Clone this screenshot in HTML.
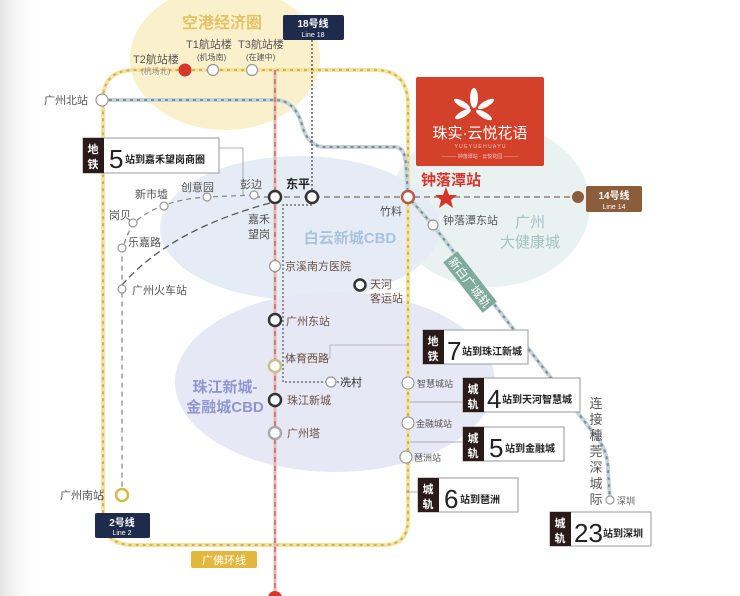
<!DOCTYPE html>
<html><head><meta charset="utf-8"><style>
html,body{margin:0;padding:0;background:#fff;}
svg{display:block;font-family:"Liberation Sans","Noto Sans CJK SC",sans-serif;}
</style></head><body>
<svg width="740" height="596" viewBox="0 0 740 596" xmlns="http://www.w3.org/2000/svg">
<defs>
<linearGradient id="lg" x1="0" x2="1"><stop offset="0" stop-color="#e4e4e4"/><stop offset="1" stop-color="#fff" stop-opacity="0"/></linearGradient>
</defs>
<rect width="740" height="596" fill="#fff"/>
<rect width="40" height="596" fill="url(#lg)"/>
<ellipse cx="225" cy="58" rx="95" ry="72" fill="#faf0cc"/>
<ellipse cx="490" cy="205" rx="100" ry="82" fill="#e9f1f1"/>
<ellipse cx="300" cy="228" rx="140" ry="72" fill="#e6ecf5"/>
<ellipse cx="335" cy="382" rx="160" ry="90" fill="#e7e8f6"/>
<text x="222" y="28" font-size="16" font-weight="bold" fill="#e2c466" text-anchor="middle">空港经济圈</text>
<text x="350" y="243" font-size="15" font-weight="bold" fill="#a9c3dc" text-anchor="middle">白云新城CBD</text>
<text x="225" y="392" font-size="15" font-weight="bold" fill="#9096d2" text-anchor="middle">珠江新城-</text>
<text x="225" y="412" font-size="15" font-weight="bold" fill="#9096d2" text-anchor="middle">金融城CBD</text>
<text x="530" y="227" font-size="15" fill="#a6c3c3" text-anchor="middle">广州</text>
<text x="530" y="247" font-size="15" fill="#a6c3c3" text-anchor="middle">大健康城</text>
<path d="M185,70 L375,70 Q408,70 408,105 L408,520 Q408,545 383,545 L133,545 Q103,545 103,515 L103,100 Q103,70 135,70 Z" fill="none" stroke="#f4e2a2" stroke-width="4"/>
<path d="M185,70 L375,70 Q408,70 408,105 L408,520 Q408,545 383,545 L133,545 Q103,545 103,515 L103,100 Q103,70 135,70 Z" fill="none" stroke="#d4b24a" stroke-width="2" stroke-dasharray="3,4"/>
<path d="M102,100 L275,100 Q295,100 302,125 Q308,147 325,147 L395,147 Q405,147 406,165 L408,197 L433,225 L595,435 Q608,450 608,470 L610,500" fill="none" stroke="#c4d4d8" stroke-width="4"/>
<path d="M102,100 L275,100 Q295,100 302,125 Q308,147 325,147 L395,147 Q405,147 406,165 L408,197 L433,225 L595,435 Q608,450 608,470 L610,500" fill="none" stroke="#7f8c96" stroke-width="2" stroke-dasharray="3,4"/>
<line x1="254" y1="197" x2="578" y2="197" stroke="#8f7f77" stroke-width="1.5" stroke-dasharray="6,4"/>
<line x1="275" y1="70" x2="275" y2="596" stroke="#e8b8b0" stroke-width="3"/>
<line x1="275" y1="70" x2="275" y2="596" stroke="#b85a55" stroke-width="1.2" stroke-dasharray="5,4"/>
<circle cx="275" cy="598" r="7" fill="#d8352a"/>
<line x1="312" y1="40" x2="312" y2="197" stroke="#444" stroke-width="1.3" stroke-dasharray="2,2"/>
<path d="M312,205 L283,205 L283,382 L358,382" fill="none" stroke="#555" stroke-width="1.2" stroke-dasharray="2,2"/>
<path d="M283,358 L330,358 L330,345 L408,345" fill="none" stroke="#aaa" stroke-width="0.8"/>
<path d="M254,195 L207,197 Q160,200 135,222 Q122,240 122,260 L122,495" fill="none" stroke="#8a8a8a" stroke-width="1.3" stroke-dasharray="5,4"/>
<path d="M270,203 Q170,230 122,285" fill="none" stroke="#555" stroke-width="1.3" stroke-dasharray="7,4"/>
<path d="M219,148 L243,148 L243,195" fill="none" stroke="#999" stroke-width="0.8"/>
<line x1="410" y1="402" x2="463" y2="402" stroke="#999" stroke-width="0.8"/>
<line x1="410" y1="442" x2="463" y2="442" stroke="#999" stroke-width="0.8"/>
<line x1="406" y1="492" x2="418" y2="492" stroke="#999" stroke-width="0.8"/>
<g fill="#fff" stroke="#999" stroke-width="1.2">
<circle cx="102" cy="100" r="6"/>
<circle cx="213" cy="70" r="5.5"/>
<circle cx="252" cy="70" r="5.5"/>
<circle cx="207" cy="197" r="4"/>
<circle cx="254" cy="195" r="4"/>
<circle cx="164" cy="206" r="4"/>
<circle cx="133" cy="223" r="4"/>
<circle cx="122" cy="248" r="4"/>
<circle cx="122" cy="289" r="4"/>
<circle cx="275" cy="266" r="5.5"/>
<circle cx="433" cy="225" r="5"/>
<circle cx="331" cy="382" r="5"/>
<circle cx="408" cy="383" r="6"/>
<circle cx="408" cy="423" r="6"/>
<circle cx="406" cy="457" r="6"/>
<circle cx="610" cy="500" r="4"/>
</g>
<circle cx="185" cy="70" r="6.5" fill="#d8352a"/>
<g fill="#fff" stroke-width="2.5">
<circle cx="275" cy="197" r="6" stroke="#333"/>
<circle cx="312" cy="197" r="6" stroke="#333"/>
<circle cx="408" cy="197" r="6" stroke="#b55a4a"/>
<circle cx="360" cy="285" r="5.5" stroke="#333"/>
<circle cx="275" cy="320" r="6" stroke="#333"/>
<circle cx="275" cy="366" r="6" stroke="#c9bf8f"/>
<circle cx="275" cy="400" r="6" stroke="#333"/>
<circle cx="275" cy="433" r="6" stroke="#aaa"/>
<circle cx="122" cy="495" r="6" stroke="#d8b84a"/>
</g>
<circle cx="578" cy="197" r="6" fill="#8c5d3b"/>
<polygon points="446,187 449,195 457,195 451,200 453,208 446,203 439,208 441,200 435,195 443,195" fill="#d8352a"/>
<g font-size="11" fill="#555">
<text x="133" y="63">T2航站楼</text>
<text x="141" y="74" font-size="8" fill="#999">(机场北)</text>
<text x="186" y="48">T1航站楼</text>
<text x="197" y="60" font-size="8">(机场南)</text>
<text x="238" y="48">T3航站楼</text>
<text x="246" y="60" font-size="8">(在建中)</text>
<text x="44" y="104">广州北站</text>
<text x="135" y="198">新市墟</text>
<text x="181" y="191">创意园</text>
<text x="240" y="188">彭边</text>
<text x="109" y="219">岗贝</text>
<text x="128" y="246">乐嘉路</text>
<text x="132" y="294">广州火车站</text>
<text x="248" y="223">嘉禾</text>
<text x="248" y="238">望岗</text>
<text x="285" y="270" fill="#6b5040">京溪南方医院</text>
<text x="370" y="288" fill="#6b5040">天河</text>
<text x="370" y="302" fill="#6b5040">客运站</text>
<text x="286" y="325" fill="#6b5040">广州东站</text>
<text x="285" y="362" fill="#6b5040">体育西路</text>
<text x="340" y="386" fill="#333">冼村</text>
<text x="287" y="404" fill="#6b5040">珠江新城</text>
<text x="287" y="437" fill="#6b5040">广州塔</text>
<text x="60" y="499">广州南站</text>
<text x="380" y="215">竹料</text>
<text x="443" y="224">钟落潭东站</text>
<text x="417" y="387" font-size="9">智慧城站</text>
<text x="416" y="427" font-size="9">金融城站</text>
<text x="414" y="461" font-size="9">琶洲站</text>
<text x="617" y="504" font-size="9">深圳</text>
</g>
<text x="286" y="188" font-size="12" font-weight="bold" fill="#222">东平</text>
<text x="421" y="185" font-size="15" font-weight="bold" fill="#d8352a">钟落潭站</text>
<g font-size="13" fill="#555" text-anchor="middle">
<text x="596" y="408">连</text><text x="596" y="424">接</text><text x="596" y="440">穗</text><text x="596" y="456">莞</text><text x="596" y="472">深</text><text x="596" y="488">城</text><text x="596" y="504">际</text>
</g>
<g transform="translate(470,282) rotate(52)">
<rect x="-32" y="-9" width="64" height="18" fill="#7fab9d"/>
<text x="0" y="5" font-size="12" fill="#fff" text-anchor="middle">新白广城轨</text>
</g>
<rect x="283" y="15" width="61" height="25" rx="2" fill="#1f2b4d"/>
<text x="313" y="27" font-size="10" font-weight="bold" fill="#fff" text-anchor="middle">18号线</text>
<text x="313" y="37" font-size="7" fill="#fff" text-anchor="middle">Line 18</text>
<rect x="586" y="186" width="56" height="26" rx="2" fill="#8c5d3b"/>
<text x="614" y="199" font-size="10" font-weight="bold" fill="#fff" text-anchor="middle">14号线</text>
<text x="614" y="209" font-size="7" fill="#fff" text-anchor="middle">Line 14</text>
<rect x="95" y="513" width="55" height="25" rx="2" fill="#1f2b4d"/>
<text x="122" y="526" font-size="10" font-weight="bold" fill="#fff" text-anchor="middle">2号线</text>
<text x="122" y="535" font-size="7" fill="#fff" text-anchor="middle">Line 2</text>
<rect x="191" y="551" width="66" height="17" rx="2" fill="#e3b63c"/>
<text x="224" y="564" font-size="11" fill="#fff" text-anchor="middle">广佛环线</text>
<rect x="416" y="77" width="128" height="89" rx="2" fill="#d4412b"/>
<g fill="#fff">
<ellipse cx="474" cy="98" rx="4" ry="10"/>
<ellipse cx="462" cy="104" rx="9" ry="3" transform="rotate(30 462 104)"/>
<ellipse cx="486" cy="104" rx="9" ry="3" transform="rotate(-30 486 104)"/>
<ellipse cx="463" cy="114" rx="9" ry="3" transform="rotate(-30 463 114)"/>
<ellipse cx="484" cy="115" rx="9" ry="3" transform="rotate(30 484 115)"/>
</g>
<text x="480" y="138" font-size="15" fill="#fff" text-anchor="middle">珠实·云悦花语</text>
<text x="480" y="148" font-size="5" fill="#f3c8c0" text-anchor="middle">Y U E Y U E   H U A Y U</text>
<text x="480" y="158" font-size="5" fill="#f3c8c0" text-anchor="middle">——— 钟落潭站 · 云悦花园 ———</text>
<g font-weight="bold">
<rect x="83" y="138" width="136" height="35" fill="#fff" stroke="#999"/>
<rect x="83" y="138" width="21" height="35" fill="#2b1a1a"/>
<text x="93" y="153" font-size="11" fill="#fff" text-anchor="middle">地</text>
<text x="93" y="168" font-size="11" fill="#fff" text-anchor="middle">铁</text>
<text x="109" y="168" font-size="26" fill="#222" font-weight="normal">5</text>
<text x="125" y="163" font-size="10" fill="#222">站到嘉禾望岗商圈</text>

<rect x="423" y="330" width="105" height="34" fill="#fff" stroke="#999"/>
<rect x="423" y="330" width="21" height="34" fill="#2b1a1a"/>
<text x="433" y="345" font-size="11" fill="#fff" text-anchor="middle">地</text>
<text x="433" y="360" font-size="11" fill="#fff" text-anchor="middle">铁</text>
<text x="447" y="360" font-size="26" fill="#222" font-weight="normal">7</text>
<text x="462" y="355" font-size="10" fill="#222">站到珠江新城</text>

<rect x="463" y="378" width="117" height="34" fill="#fff" stroke="#999"/>
<rect x="463" y="378" width="21" height="34" fill="#2b1a1a"/>
<text x="473" y="393" font-size="11" fill="#fff" text-anchor="middle">城</text>
<text x="473" y="408" font-size="11" fill="#fff" text-anchor="middle">轨</text>
<text x="487" y="408" font-size="26" fill="#222" font-weight="normal">4</text>
<text x="502" y="403" font-size="10" fill="#222">站到天河智慧城</text>

<rect x="463" y="427" width="101" height="34" fill="#fff" stroke="#999"/>
<rect x="463" y="427" width="21" height="34" fill="#2b1a1a"/>
<text x="473" y="442" font-size="11" fill="#fff" text-anchor="middle">城</text>
<text x="473" y="457" font-size="11" fill="#fff" text-anchor="middle">轨</text>
<text x="489" y="457" font-size="26" fill="#222" font-weight="normal">5</text>
<text x="505" y="452" font-size="10" fill="#222">站到金融城</text>

<rect x="418" y="478" width="100" height="34" fill="#fff" stroke="#999"/>
<rect x="418" y="478" width="21" height="34" fill="#2b1a1a"/>
<text x="428" y="493" font-size="11" fill="#fff" text-anchor="middle">城</text>
<text x="428" y="508" font-size="11" fill="#fff" text-anchor="middle">轨</text>
<text x="444" y="508" font-size="26" fill="#222" font-weight="normal">6</text>
<text x="460" y="503" font-size="10" fill="#222">站到琶洲</text>

<rect x="550" y="512" width="101" height="34" fill="#fff" stroke="#999"/>
<rect x="550" y="512" width="21" height="34" fill="#2b1a1a"/>
<text x="560" y="527" font-size="11" fill="#fff" text-anchor="middle">城</text>
<text x="560" y="542" font-size="11" fill="#fff" text-anchor="middle">轨</text>
<text x="574" y="542" font-size="26" fill="#222" font-weight="normal">23</text>
<text x="603" y="537" font-size="10" fill="#222">站到深圳</text>
</g>
</svg>
</body></html>
